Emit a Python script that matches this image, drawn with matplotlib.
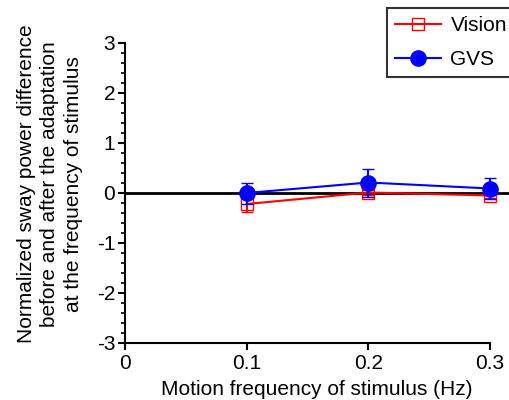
import matplotlib
matplotlib.use("Agg")
from matplotlib import pyplot as plt
from matplotlib.ticker import MultipleLocator

plt.rcParams['font.family'] = ['Liberation Sans', 'DejaVu Sans']

freq = [0.1, 0.2, 0.3]
vision = [-0.22, 0.01, -0.05]
vision_err = [0.15, 0.05, 0.05]
gvs = [0.0, 0.21, 0.09]
gvs_err = [0.21, 0.28, 0.21]

fig = plt.figure(figsize=(5.09, 4.0), dpi=100)
ax = fig.add_axes([0.2456, 0.1425, 0.7544, 0.75])

ax.axhline(0, color='black', lw=2, zorder=1)
eb_vis = ax.errorbar(freq, vision, yerr=vision_err, color='red', marker='s', ms=9,
                     mfc='none', mec='red', capsize=4, lw=1.5, zorder=3)
eb_gvs = ax.errorbar(freq, gvs, yerr=gvs_err, color='blue', marker='o', ms=11,
                     capsize=4, lw=1.5, zorder=4)

ax.set_xlim(0, 0.3156)
ax.set_ylim(-3, 3)
ax.set_xticks([0, 0.1, 0.2, 0.3])
ax.set_xticklabels(['0', '0.1', '0.2', '0.3'])
ax.set_yticks([-3, -2, -1, 0, 1, 2, 3])
ax.set_yticklabels(['-3', '-2', '-1', '0', '1', '2', '3'])
ax.yaxis.set_minor_locator(MultipleLocator(0.2))
ax.spines['top'].set_visible(False)
ax.spines['right'].set_visible(False)
ax.spines['bottom'].set_bounds(0, 0.3)
ax.spines['left'].set_linewidth(1.5)
ax.spines['bottom'].set_linewidth(1.5)
ax.tick_params(axis='both', labelsize=15, width=1.5, length=5, pad=2)
ax.tick_params(axis='x', pad=3)
ax.tick_params(axis='y', which='minor', width=1.2, length=3)

ax.set_xlabel('Motion frequency of stimulus (Hz)', fontsize=15, labelpad=5)
ax.set_ylabel('Normalized sway power difference\nbefore and after the adaptation\nat the frequency of stimulus',
              fontsize=15, linespacing=1.3)
ax.yaxis.set_label_coords(-0.11, 0.53)

leg = ax.legend([eb_vis[0], eb_gvs[0]], ['Vision', 'GVS'],
                loc='upper left', bbox_to_anchor=(0.682, 1.117), fontsize=15,
                frameon=True, fancybox=False, edgecolor='black', handlelength=2.2,
                handletextpad=0.45, borderpad=0.4, labelspacing=0.7, borderaxespad=0)
leg.get_frame().set_linewidth(1.5)

fig.savefig('out.png', dpi=100)
